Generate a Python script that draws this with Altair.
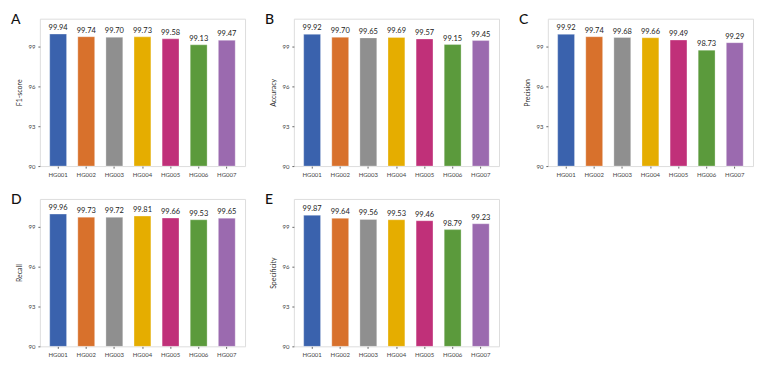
import altair as alt
import pandas as pd

groups = ["HG001", "HG002", "HG003", "HG004", "HG005", "HG006", "HG007"]
colors = ["#3a62ad", "#d8712c", "#8f8f8f", "#e5ad00", "#c03079", "#5b9a3c", "#9b6aaf"]

f1_score = [99.94, 99.74, 99.70, 99.73, 99.58, 99.13, 99.47]
accuracy = [99.92, 99.70, 99.65, 99.69, 99.57, 99.15, 99.45]
precision = [99.92, 99.74, 99.68, 99.66, 99.49, 98.73, 99.29]
recall = [99.96, 99.73, 99.72, 99.81, 99.66, 99.53, 99.65]
specificity = [99.87, 99.64, 99.56, 99.53, 99.46, 98.79, 99.23]

metric_names = ["F1-score", "Accuracy", "Precision", "Recall", "Specificity"]
panel_letters = ["A", "B", "C", "D", "E"]
y_ticks = [90, 93, 96, 99]
y_min = 90

FONT = "Lato"


def panel(letter, metric, values):
    df = pd.DataFrame({
        "group": groups,
        "value": values,
        "label": [f"{v:.2f}" for v in values],
    })
    base = alt.Chart(df)
    x = alt.X("group:N", sort=groups, title=None,
              scale=alt.Scale(paddingInner=0.4, paddingOuter=0.35),
              axis=alt.Axis(labelAngle=0, labelFontSize=6, labelColor="#444",
                            tickSize=2, tickColor="#666", domain=False,
                            labelPadding=3, labelFont=FONT))
    y = alt.Y("value:Q",
              scale=alt.Scale(domain=[90, 101.1], nice=False, zero=False),
              axis=alt.Axis(values=y_ticks, title=metric, grid=False,
                            labelFontSize=6, labelColor="#444", tickSize=2,
                            tickColor="#666", domain=False, labelPadding=3,
                            titleFontSize=7, titleFontWeight="normal",
                            titleColor="#333", titlePadding=5,
                            labelFont=FONT, titleFont=FONT))
    bars = base.mark_bar(stroke="#ffffff", strokeWidth=0.6, strokeOpacity=0.5).encode(
        x=x, y=y, y2=alt.datum(y_min),
        color=alt.Color("group:N", scale=alt.Scale(domain=groups, range=colors), legend=None),
    )
    text = base.mark_text(dy=-6, fontSize=7.5, color="#222", font=FONT).encode(
        x=alt.X("group:N", sort=groups),
        y=alt.Y("value:Q"),
        text="label:N",
    )
    lab = alt.Chart(pd.DataFrame({"t": [letter]})).mark_text(
        fontSize=14, align="left", baseline="middle", color="#111", font=FONT, fontWeight=500
    ).encode(x=alt.value(-29), y=alt.value(1), text="t:N")
    return alt.layer(bars, text, lab).properties(width=206, height=148)


series = [f1_score, accuracy, precision, recall, specificity]
panels = [panel(l, m, v) for l, m, v in zip(panel_letters, metric_names, series)]

top = alt.hconcat(panels[0], panels[1], panels[2], spacing=18)
bottom = alt.hconcat(panels[3], panels[4], spacing=18)
chart = alt.vconcat(top, bottom, spacing=14).properties(
    padding={"left": 2, "top": 3, "right": 2, "bottom": 2}
).configure_view(stroke="#a8a8a8", strokeWidth=1).configure(background="white")

chart.save("out.html", embed_options={"renderer": "svg", "actions": False})
